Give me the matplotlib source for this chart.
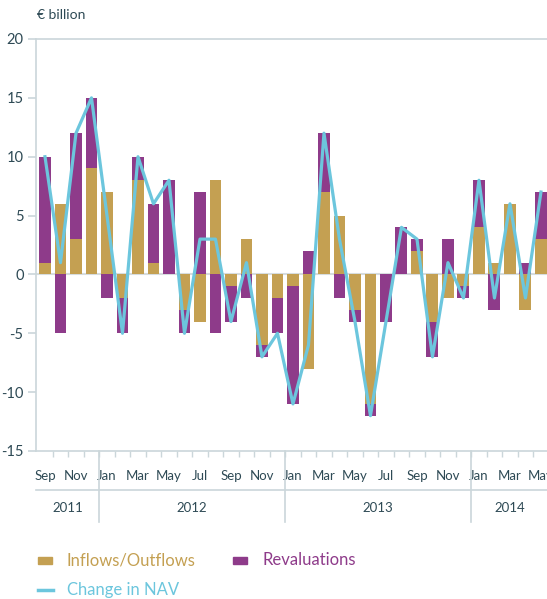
import numpy as np
import matplotlib.pyplot as plt
import matplotlib.transforms as mtransforms

# monthly data, Sep 2011 - May 2014
maanden = ["Sep", "Oct", "Nov", "Dec",
           "Jan", "Feb", "Mar", "Apr", "May", "Jun", "Jul", "Aug", "Sep", "Oct", "Nov", "Dec",
           "Jan", "Feb", "Mar", "Apr", "May", "Jun", "Jul", "Aug", "Sep", "Oct", "Nov", "Dec",
           "Jan", "Feb", "Mar", "Apr", "May"]
jaren = ["2011", "2012", "2013", "2014"]
jaar_start = [0, 4, 16, 28]
jaar_eind = [3, 15, 27, 32]
inflows = [1, 6, 3, 9, 7, -2, 8, 1, 0, -3, -4, 8, -1, 3, -6, -2,
           -1, -8, 7, 5, -3, -11, 0, 0, 2, -4, -2, -1, 4, 1, 6, -3, 3]
revaluaties = [9, -5, 9, 6, -2, -3, 2, 5, 8, -2, 7, -5, -3, -2, -1, -3,
               -10, 2, 5, -2, -1, -1, -4, 4, 1, -3, 3, -1, 4, -3, 0, 1, 4]
nav = [10, 1, 12, 15, 5, -5, 10, 6, 8, -5, 3, 3, -4, 1, -7, -5,
       -11, -6, 12, 3, -4, -12, -4, 4, 3, -7, 1, -2, 8, -2, 6, -2, 7]

goud = "#C4A052"
paars = "#8E3B8A"
blauw = "#6CC6DD"
tekst = "#2E4A55"
lijn = "#CBD6DA"

plt.rcParams['font.family'] = ['Lato', 'DejaVu Sans']
plt.rcParams['axes.unicode_minus'] = False

fig = plt.figure(figsize=(5.47, 5.99), dpi=100)
ax = fig.add_axes([36/547, 148/599, 511/547, 412/599])

x = np.arange(len(maanden))
inflows = np.array(inflows)
revaluaties = np.array(revaluaties)
# stacking: positives up, negatives down
bodem_rev = np.where(np.sign(revaluaties) == np.sign(inflows), inflows, 0)
breedte = 0.77
ax.bar(x, inflows, width=breedte, color=goud, zorder=2)
ax.bar(x, revaluaties, width=breedte, bottom=bodem_rev, color=paars, zorder=2)
ax.plot(x, nav, color=blauw, lw=2.3, zorder=3)

ax.axhline(0, color="#D6DCDE", lw=1.5, zorder=1)
ax.set_ylim(-15, 20)
ax.set_xlim(-0.58, len(maanden) - 0.61)

ax.spines["right"].set_visible(False)
for kant in ["left", "top", "bottom"]:
    ax.spines[kant].set_color(lijn)
    ax.spines[kant].set_linewidth(1.2)

ax.set_yticks(np.arange(-15, 21, 5))
ax.tick_params(axis="y", colors=lijn, labelcolor=tekst, labelsize=10.5, length=6, width=1.2, pad=3)

# month labels every other month
ax.set_xticks(x[::2])
ax.set_xticklabels(maanden[::2])
ax.tick_params(axis="x", length=0, labelsize=9.5, labelcolor=tekst, pad=14)
ax.set_xticks(np.arange(0.5, len(maanden) - 1, 1), minor=True)
ax.tick_params(axis="x", which="minor", length=4, width=1, color=lijn)

trans = mtransforms.blended_transform_factory(ax.transData, ax.transAxes)
# horizontal separator between months and years
ax.plot([-0.58, len(maanden)], [-39/412, -39/412], transform=trans, color=lijn, lw=1.2, clip_on=False)
for s, e, jaar in zip(jaar_start, jaar_eind, jaren):
    if s > 0:
        ax.plot([s - 0.5, s - 0.5], [0, -71/412], transform=trans, color=lijn, lw=1.2, clip_on=False)
    ax.text((s + e) / 2, -57/412, jaar, transform=trans, ha="center", va="center",
            fontsize=9.5, color=tekst)

fig.text(37/547, 1 - 15/599, "€ billion", fontsize=10, color=tekst, va="center", ha="left")

# legend
fig.patches.append(plt.Rectangle((38/547, 1 - 564/599), 14/547, 7/599, color=goud, transform=fig.transFigure))
fig.text(67/547, 1 - 560/599, "Inflows/Outflows", fontsize=12, color=goud, va="center")
fig.patches.append(plt.Rectangle((233/547, 1 - 564/599), 14/547, 7/599, color=paars, transform=fig.transFigure))
fig.text(262/547, 1 - 560/599, "Revaluations", fontsize=12, color=paars, va="center")
fig.lines.append(plt.Line2D([38/547, 53/547], [1 - 590/599, 1 - 590/599], color=blauw, lw=2.5,
                            transform=fig.transFigure))
fig.text(67/547, 1 - 590/599, "Change in NAV", fontsize=12, color=blauw, va="center")

fig.savefig("out.png", dpi=100)
